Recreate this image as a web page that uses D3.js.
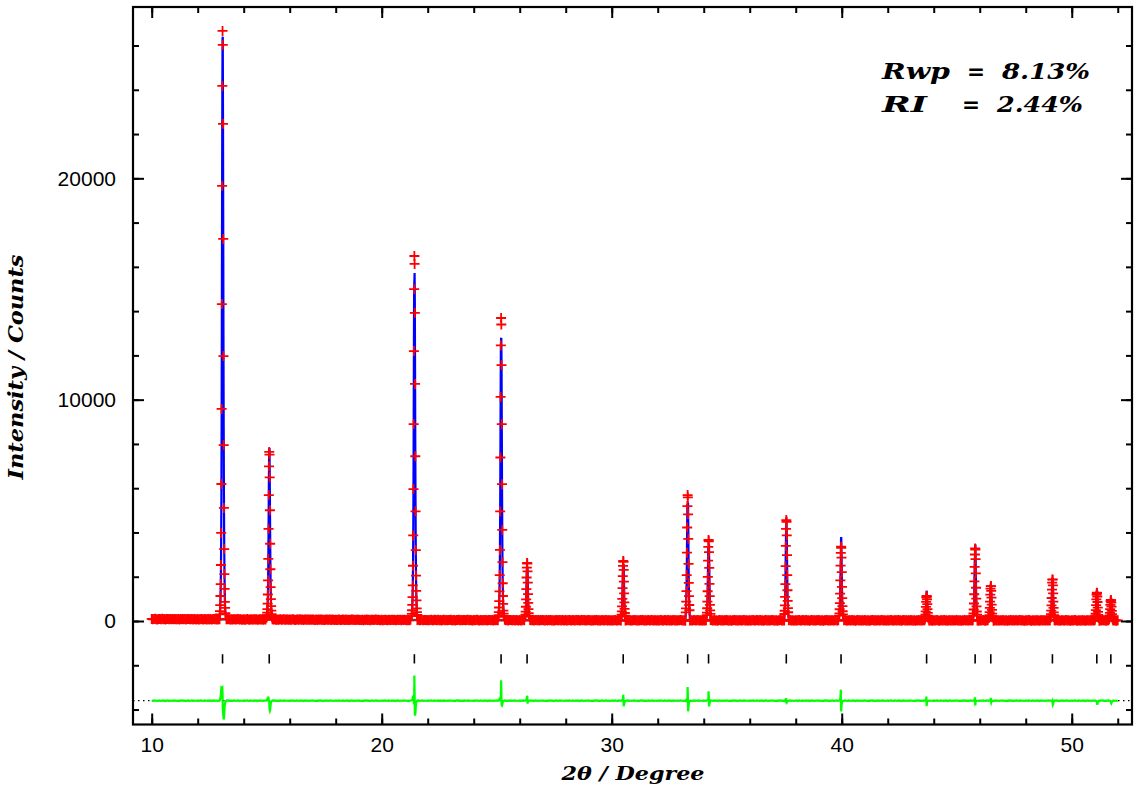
<!DOCTYPE html>
<html>
<head>
<meta charset="utf-8">
<script src="https://cdn.jsdelivr.net/npm/d3@7"></script>
<style>
body { margin: 0; background: #fff; }
</style>
</head>
<body>
<script>
//Width and height
var w = 1142;
var h = 792;

// observed counts away from the peaks, 0.05 deg steps from 10.0 to 52.0 (one row per degree)
var bgStart = 10, bgStep = 0.05;
var obsBg = [
  92,76,88,100,81,73,95,86,79,97,80,93,71,87,96,82,91,75,89,84,
  94,80,74,87,67,91,82,96,75,85,71,86,91,76,83,95,73,88,79,70,
  85,69,81,93,74,66,88,79,72,90,73,86,64,80,89,75,84,68,82,77,
  86,72,66,79,59,83,74,88,67,77,63,78,83,68,75,87,65,80,71,62,
  77,61,73,85,66,58,80,71,64,82,65,78,56,72,81,67,76,60,74,69,
  78,64,58,71,51,75,66,80,59,69,55,70,75,60,67,79,57,72,63,54,
  69,53,65,77,58,50,72,63,56,74,57,70,48,64,73,59,68,52,66,61,
  70,56,50,63,43,67,58,72,51,61,47,62,67,52,59,71,49,64,55,46,
  61,45,57,69,50,42,64,55,48,66,49,62,40,56,65,51,60,44,58,53,
  62,48,42,55,35,59,50,64,43,53,39,54,59,44,51,63,41,56,47,38,
  54,38,50,62,43,35,57,48,41,59,42,55,33,49,58,44,53,37,51,46,
  56,42,36,49,29,53,44,58,37,47,33,48,53,38,45,57,35,50,41,32,
  49,33,45,57,38,30,52,43,36,54,37,50,28,44,53,39,48,32,46,41,
  52,38,32,45,25,49,40,54,33,43,29,44,49,34,41,53,31,46,37,28,
  45,29,41,53,34,26,48,39,32,50,33,46,24,40,49,35,44,28,42,37,
  49,35,29,42,22,46,37,51,30,40,26,41,46,31,38,50,28,43,34,25,
  43,27,39,51,32,24,46,37,30,48,31,44,22,38,47,33,42,26,40,35,
  47,33,27,40,20,44,35,49,28,38,24,39,44,29,36,48,26,41,32,23,
  41,25,37,49,30,22,44,35,28,46,29,42,20,36,45,31,40,24,38,33,
  45,31,25,38,18,42,33,47,26,36,22,37,42,27,34,46,24,39,30,21,
  39,23,35,47,28,20,42,33,26,44,27,40,18,34,43,29,38,22,36,31,
  44,30,24,37,17,41,32,46,25,35,21,36,41,26,33,45,23,38,29,20,
  38,22,34,46,27,19,41,32,25,43,26,39,17,33,42,28,37,21,35,30,
  43,29,23,36,16,40,31,45,24,34,20,35,40,25,32,44,22,37,28,19,
  37,21,33,45,26,18,40,31,24,42,25,38,16,32,41,27,36,20,34,29,
  42,28,22,35,15,39,30,44,23,33,19,34,39,24,31,43,21,36,27,18,
  37,21,33,45,26,18,40,31,24,42,25,38,16,32,41,27,36,20,34,29,
  42,28,22,35,15,39,30,44,23,33,19,34,39,24,31,43,21,36,27,18,
  37,21,33,45,26,18,40,31,24,42,25,38,16,32,41,27,36,20,34,29,
  41,27,21,34,14,38,29,43,22,32,18,33,38,23,30,42,20,35,26,17,
  36,20,32,44,25,17,39,30,23,41,24,37,15,31,40,26,35,19,33,28,
  41,27,21,34,14,38,29,43,22,32,18,33,38,23,30,42,20,35,26,17,
  36,20,32,44,25,17,39,30,23,41,24,37,15,31,40,26,35,19,33,28,
  40,26,20,33,13,37,28,42,21,31,17,32,37,22,29,41,19,34,25,16,
  35,19,31,43,24,16,38,29,22,40,23,36,14,30,39,25,34,18,32,27,
  40,26,20,33,13,37,28,42,21,31,17,32,37,22,29,41,19,34,25,16,
  35,19,31,43,24,16,38,29,22,40,23,36,14,30,39,25,34,18,32,27,
  40,26,20,33,13,37,28,42,21,31,17,32,37,22,29,41,19,34,25,16,
  34,18,30,42,23,15,37,28,21,39,22,35,13,29,38,24,33,17,31,26,
  39,25,19,32,12,36,27,41,20,30,16,31,36,21,28,40,18,33,24,15,
  34,18,30,42,23,15,37,28,21,39,22,35,13,29,38,24,33,17,31,26,
  39,25,19,32,12,36,27,41,20,30,16,31,36,21,28,40,18,33,24,15,
  30
];

// fitted background at whole degrees 10..52
var calcBg = [85,82,78,74,70,66,62,58,54,50,47,44,42,40,38,37,36,35,34,33,32,32,31,31,30,30,30,30,30,29,29,29,29,28,28,28,28,28,27,27,27,27,27];

// reflection positions (2theta)
var peakPos = [13.08, 15.11, 21.42, 25.19, 26.32, 30.50, 33.30, 34.21, 37.59, 39.97, 43.69, 45.80, 46.48, 49.16, 51.09, 51.70];

// counts across each peak, 0.01 deg steps centred on the reflection
var peakStep = 0.01;
var peakObs = [
  [300,450,720,1130,1670,2530,3980,6190,9580,14320,19660,24175,26660,26030,22460,17260,11970,7950,5110,3250,2120,1450,860,590,360],
  [144,190,266,381,541,786,1198,1832,2803,4163,5691,6989,7640,7517,6493,5003,3490,2337,1527,992,671,473,304,228,167],
  [221,320,485,733,1079,1607,2497,3866,5960,8895,12193,14996,16490,16134,13925,10709,7444,4954,3206,2052,1359,930,568,403,271],
  [186,268,405,610,897,1336,2075,3211,4950,7387,10124,12451,13690,13396,11562,8893,6182,4115,2663,1705,1130,774,473,336,227],
  [200,284,425,643,976,1442,1966,2411,2620,2592,2241,1730,1211,816,538,355,245],
  [201,287,434,659,1003,1485,2027,2488,2710,2675,2312,1783,1247,838,550,361,247],
  [388,571,878,1350,2073,3086,4224,5191,5690,5583,4821,3711,2585,1726,1122,724,485],
  [261,378,575,879,1344,1995,2727,3350,3660,3602,3112,2398,1673,1121,733,477,323],
  [317,463,709,1088,1667,2479,3391,4166,4560,4481,3870,2980,2077,1389,906,586,395],
  [242,349,531,810,1236,1834,2506,3078,3360,3309,2859,2204,1539,1031,675,440,299],
  [101,137,198,292,436,637,863,1055,1130,1100,981,761,537,367,247,168,120],
  [237,342,519,791,1208,1791,2447,3005,3280,3231,2792,2152,1503,1007,660,430,292],
  [130,180,265,397,597,878,1194,1463,1580,1572,1360,1052,739,501,333,223,156],
  [148,209,310,466,705,1040,1416,1735,1880,1865,1613,1246,874,590,391,259,180],
  [111,152,221,327,490,717,973,1191,1280,1260,1108,858,605,411,276,186,132],
  [90,120,172,250,371,540,730,892,950,930,830,645,457,313,212,146,106]
];
var peakCalc = [
  [280,420,650,1000,1450,2200,3500,5600,9000,13800,19100,23600,26300,26400,22900,17900,12700,8800,5900,3900,2600,1700,1050,700,420],
  [130,170,240,340,480,700,1080,1690,2660,4050,5650,7080,7700,7820,6900,5450,3900,2650,1720,1100,730,500,320,235,170],
  [200,290,440,660,980,1480,2320,3650,5800,8850,12300,15100,15350,15720,14500,11380,8050,5450,3500,2250,1480,1000,610,430,285],
  [170,250,380,570,840,1260,1980,3100,4850,7350,10150,12300,12770,12790,11700,9100,6400,4300,2780,1770,1160,790,480,340,230],
  [190,270,400,610,930,1380,1900,2330,2400,2400,2330,1820,1290,850,550,360,248],
  [190,270,410,630,960,1440,2000,2520,2440,2530,2560,1990,1420,960,620,400,265],
  [370,545,840,1300,2010,3030,4220,5280,5070,5350,5300,4100,2850,1880,1200,760,500],
  [250,360,550,850,1300,1950,2700,3360,3240,3360,3370,2600,1820,1210,780,500,335],
  [310,450,690,1060,1630,2440,3350,4050,4670,4540,3950,3040,2120,1410,915,590,397],
  [235,335,505,760,1160,1700,2250,2580,3740,3790,3100,2350,1620,1070,695,450,305],
  [98,132,190,280,420,620,850,865,1370,1270,1000,770,545,372,250,170,121],
  [232,334,506,770,1180,1760,2420,2855,3390,3450,2840,2180,1520,1015,665,433,294],
  [128,177,260,390,590,870,1190,1470,1450,1600,1440,1100,760,510,337,225,157],
  [145,205,305,460,700,1040,1430,1780,1900,1960,1790,1400,980,650,420,270,185],
  [110,150,220,330,495,730,1000,1230,1330,1400,1290,1000,700,460,300,195,136],
  [90,120,172,252,375,550,750,920,980,1030,950,740,520,345,230,155,110]
];

var diffOffset = -3600;
var xTickMinor = d3.range(10, 53, 2);
var xTickMajor = [10, 20, 30, 40, 50];
var yTickMinor = d3.range(-4000, 26001, 2000);
var yTickMajor = [0, 10000, 20000];

// build the point list
var pts = [];
obsBg.forEach(function(v, i) {
  var x = bgStart + i * bgStep;
  var inPeak = peakPos.some(function(p, k) {
    return Math.abs(x - p) <= (peakObs[k].length - 1) / 2 * peakStep + 0.005;
  });
  if (inPeak) return;
  pts.push({x: x, obs: v, calc: calcBg[Math.floor(x + 1e-6) - bgStart]});
});
peakPos.forEach(function(p, k) {
  var half = (peakObs[k].length - 1) / 2;
  peakObs[k].forEach(function(v, j) {
    pts.push({x: p + (j - half) * peakStep, obs: v, calc: peakCalc[k][j]});
  });
});
pts.sort(function(a, b) { return a.x - b.x; });

var L = 133, R = 1132, T = 7, B = 724.5;

var x = d3.scaleLinear().domain([9.187, 52.62]).range([L, R]);
var y = d3.scaleLinear().domain([-4676, 27740]).range([B, T]);

var svg = d3.select("body")
    .append("svg")
    .attr("width", w)
    .attr("height", h);

var plot = svg.append("g");

// dotted zero line of the difference curve
plot.append("line")
    .attr("x1", L).attr("x2", R)
    .attr("y1", y(diffOffset)).attr("y2", y(diffOffset))
    .attr("stroke", "black")
    .attr("stroke-width", 1.2)
    .attr("stroke-dasharray", "1.5,3.5");

// reflection ticks
plot.selectAll(".refl")
    .data(peakPos)
    .enter()
    .append("line")
    .attr("class", "refl")
    .attr("x1", function(d) { return x(d); })
    .attr("x2", function(d) { return x(d); })
    .attr("y1", y(-1500))
    .attr("y2", y(-1920))
    .attr("stroke", "black")
    .attr("stroke-width", 1.6);

// difference curve
plot.append("path")
    .datum(pts)
    .attr("fill", "none")
    .attr("stroke", "#00ff00")
    .attr("stroke-width", 2.2)
    .attr("d", d3.line()
        .x(function(d) { return x(d.x); })
        .y(function(d) { return y(diffOffset + d.obs - d.calc); }));

// background
plot.append("path")
    .datum(calcBg)
    .attr("fill", "none")
    .attr("stroke", "#00ffff")
    .attr("stroke-width", 3)
    .attr("d", d3.line()
        .x(function(d, i) { return x(bgStart + i); })
        .y(function(d) { return y(d); }));

// calculated profile
plot.append("path")
    .datum(pts)
    .attr("fill", "none")
    .attr("stroke", "#0000ff")
    .attr("stroke-width", 2.2)
    .attr("d", d3.line()
        .x(function(d) { return x(d.x); })
        .y(function(d) { return y(d.calc); }));

// observed points
plot.selectAll(".obs")
    .data(pts)
    .enter()
    .append("path")
    .attr("class", "obs")
    .attr("transform", function(d) { return "translate(" + x(d.x) + "," + y(d.obs) + ")"; })
    .attr("d", "M-5,0H5M0,-5V5")
    .attr("stroke", "#ff0000")
    .attr("stroke-width", 1.8)
    .attr("fill", "none");

// axes, ticks pointing inward
function styleAxis(g) {
  g.select(".domain").remove();
  g.selectAll(".tick line").attr("stroke-width", 2);
  g.selectAll("text")
      .attr("font-family", "'Liberation Sans', Arial, sans-serif")
      .attr("font-size", 21)
      .attr("fill", "black");
}

svg.append("g").attr("transform", "translate(0," + B + ")")
    .call(d3.axisBottom(x).tickValues(xTickMinor).tickSize(-6).tickSizeOuter(0).tickFormat(""))
    .call(styleAxis);
svg.append("g").attr("transform", "translate(0," + B + ")")
    .call(d3.axisBottom(x).tickValues(xTickMajor).tickSize(-11).tickSizeOuter(0).tickPadding(13).tickFormat(d3.format("d")))
    .call(styleAxis);
svg.append("g").attr("transform", "translate(0," + T + ")")
    .call(d3.axisTop(x).tickValues(xTickMinor).tickSize(-6).tickSizeOuter(0).tickFormat(""))
    .call(styleAxis);
svg.append("g").attr("transform", "translate(0," + T + ")")
    .call(d3.axisTop(x).tickValues(xTickMajor).tickSize(-11).tickSizeOuter(0).tickFormat(""))
    .call(styleAxis);

svg.append("g").attr("transform", "translate(" + L + ",0)")
    .call(d3.axisLeft(y).tickValues(yTickMinor).tickSize(-6).tickSizeOuter(0).tickFormat(""))
    .call(styleAxis);
svg.append("g").attr("transform", "translate(" + L + ",0)")
    .call(d3.axisLeft(y).tickValues(yTickMajor).tickSize(-11).tickSizeOuter(0).tickPadding(17).tickFormat(d3.format("d")))
    .call(styleAxis);
svg.append("g").attr("transform", "translate(" + R + ",0)")
    .call(d3.axisRight(y).tickValues(yTickMinor).tickSize(-6).tickSizeOuter(0).tickFormat(""))
    .call(styleAxis);
svg.append("g").attr("transform", "translate(" + R + ",0)")
    .call(d3.axisRight(y).tickValues(yTickMajor).tickSize(-11).tickSizeOuter(0).tickFormat(""))
    .call(styleAxis);

// frame
svg.append("rect")
    .attr("x", L).attr("y", T)
    .attr("width", R - L).attr("height", B - T)
    .attr("fill", "none")
    .attr("stroke", "black")
    .attr("stroke-width", 2.2);

// axis titles
svg.append("text")
    .attr("x", 633).attr("y", 780)
    .attr("text-anchor", "middle")
    .attr("font-family", "'DejaVu Serif', serif")
    .attr("font-style", "italic")
    .attr("font-weight", "bold")
    .attr("font-size", 19)
    .attr("textLength", 143)
    .attr("lengthAdjust", "spacingAndGlyphs")
    .text("2θ / Degree");

svg.append("text")
    .attr("transform", "translate(23,367) rotate(-90)")
    .attr("text-anchor", "middle")
    .attr("font-family", "'DejaVu Serif', serif")
    .attr("font-style", "italic")
    .attr("font-weight", "bold")
    .attr("font-size", 20)
    .attr("textLength", 225)
    .attr("lengthAdjust", "spacingAndGlyphs")
    .text("Intensity / Counts");

// agreement factors
var rText = [
  {t: "Rwp", x: 882, len: 68, y: 79},
  {t: "=", x: 967, len: 18, y: 79},
  {t: "8.13%", x: 1002, len: 88, y: 79},
  {t: "RI", x: 882, len: 45, y: 112},
  {t: "=", x: 962, len: 18, y: 112},
  {t: "2.44%", x: 997, len: 86, y: 112}
];
svg.selectAll(".rf")
    .data(rText)
    .enter()
    .append("text")
    .attr("class", "rf")
    .attr("x", function(d) { return d.x; })
    .attr("y", function(d) { return d.y; })
    .attr("font-family", "'DejaVu Serif', serif")
    .attr("font-style", "italic")
    .attr("font-weight", "bold")
    .attr("font-size", 22)
    .attr("textLength", function(d) { return d.len; })
    .attr("lengthAdjust", "spacingAndGlyphs")
    .text(function(d) { return d.t; });
</script>
</body>
</html>
